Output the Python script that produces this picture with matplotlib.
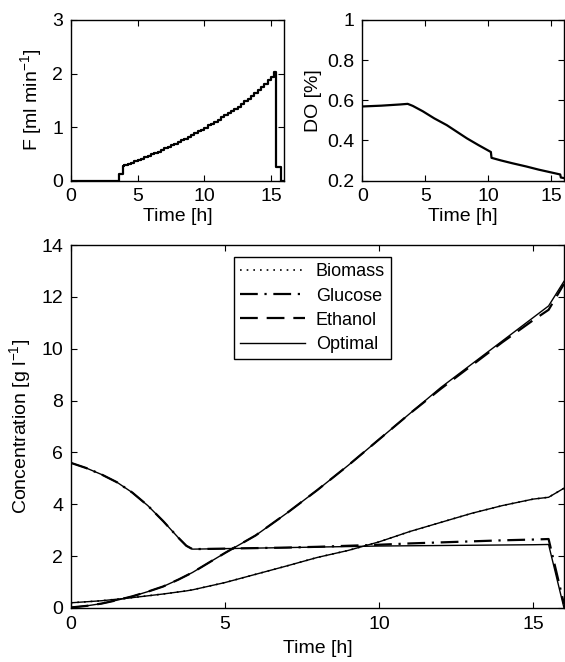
import numpy as np
import matplotlib
matplotlib.use("Agg")
import matplotlib.pyplot as plt

plt.rcParams["font.family"] = ["Liberation Sans", "DejaVu Sans"]
plt.rcParams["mathtext.fontset"] = "custom"
plt.rcParams["mathtext.rm"] = "Liberation Sans"
plt.rcParams["mathtext.it"] = "Liberation Sans:italic"
plt.rcParams["font.size"] = 14

# feed rate F (step changes, value holds until next time)
f_t = [0, 3.6, 3.9, 4.0, 4.25, 4.5, 4.75, 5.0, 5.25, 5.5, 5.75, 6.0, 6.25, 6.5, 6.75,
       7.0, 7.25, 7.5, 7.75, 8.0, 8.25, 8.5, 8.75, 9.0, 9.25, 9.5, 9.75, 10.0, 10.25,
       10.5, 10.75, 11.0, 11.25, 11.5, 11.75, 12.0, 12.25, 12.5, 12.75, 13.0, 13.25,
       13.5, 13.75, 14.0, 14.25, 14.5, 14.75, 15.0, 15.2, 15.4, 15.78, 16.0]
f_v = [0, 0.12, 0.28, 0.29, 0.31, 0.33, 0.36, 0.38, 0.41, 0.43, 0.46, 0.49, 0.51, 0.54, 0.57,
       0.60, 0.63, 0.66, 0.69, 0.72, 0.75, 0.78, 0.82, 0.85, 0.88, 0.92, 0.95, 0.99, 1.03,
       1.06, 1.10, 1.14, 1.18, 1.22, 1.26, 1.30, 1.34, 1.38, 1.43, 1.48, 1.53,
       1.58, 1.63, 1.69, 1.74, 1.80, 1.87, 1.94, 2.03, 0.25, 0.0, 0.0]

# dissolved oxygen
do_t = [0, 1.5, 3.0, 3.6, 4.0, 4.8, 5.7, 6.7, 7.5, 8.3, 9.2, 10.2, 10.25, 11.0, 11.9, 13.0, 14.0, 15.0, 15.7, 15.75, 16.0]
do_v = [0.569, 0.573, 0.579, 0.582, 0.572, 0.545, 0.51, 0.476, 0.443, 0.41, 0.377, 0.342, 0.313, 0.300, 0.286, 0.270, 0.254, 0.240, 0.230, 0.215, 0.212]

# concentrations
t = [0, 0.5, 1, 1.5, 2, 2.5, 3, 3.5, 3.75, 3.95, 5, 6, 7, 8, 9, 10, 11, 12, 13, 14, 15, 15.5, 16]
glc_opt = [5.6, 5.4, 5.15, 4.85, 4.45, 3.95, 3.35, 2.7, 2.4, 2.27, 2.29, 2.31, 2.33, 2.35, 2.37, 2.39, 2.40, 2.41, 2.42, 2.43, 2.44, 2.45, 0.0]
glc_sim = [5.6, 5.4, 5.15, 4.85, 4.45, 3.95, 3.35, 2.7, 2.4, 2.27, 2.29, 2.31, 2.33, 2.36, 2.40, 2.44, 2.49, 2.53, 2.57, 2.61, 2.64, 2.66, 0.15]
eth_opt = [0.02, 0.08, 0.17, 0.3, 0.45, 0.63, 0.83, 1.1, 1.25, 1.37, 2.12, 2.8, 3.65, 4.55, 5.5, 6.5, 7.5, 8.5, 9.4, 10.3, 11.2, 11.65, 12.6]
eth_sim = [0.02, 0.08, 0.17, 0.3, 0.45, 0.63, 0.83, 1.1, 1.25, 1.37, 2.12, 2.8, 3.65, 4.55, 5.5, 6.5, 7.5, 8.45, 9.35, 10.25, 11.1, 11.5, 12.5]
bio_opt = [0.2, 0.24, 0.28, 0.34, 0.4, 0.47, 0.54, 0.62, 0.66, 0.7, 0.98, 1.3, 1.62, 1.95, 2.22, 2.55, 2.95, 3.3, 3.65, 3.95, 4.2, 4.27, 4.62]
bio_sim = bio_opt

fig = plt.figure(figsize=(5.65, 6.62), dpi=100)
W, H = 565.0, 662.0
ax1 = fig.add_axes([71 / W, 1 - 180.5 / H, 213.3 / W, 160.5 / H])
ax2 = fig.add_axes([362.3 / W, 1 - 180.5 / H, 201.7 / W, 160.5 / H])
ax3 = fig.add_axes([70.7 / W, 1 - 608 / H, 493.3 / W, 363 / H])

for ax in (ax1, ax2, ax3):
    ax.tick_params(direction="in", top=True, right=True, length=4, width=0.8, pad=5.5)
    for s in ax.spines.values():
        s.set_linewidth(1.0)
    ax.set_xlim(0, 16)
    ax.set_xticks([0, 5, 10, 15])
    ax.set_xlabel("Time [h]", labelpad=2)

ax1.plot(f_t, f_v, color="k", lw=1.6, drawstyle="steps-post")
ax1.set_ylim(0, 3)
ax1.set_yticks([0, 1, 2, 3])
ax1.set_ylabel("F [ml min$^{-1}$]", labelpad=6)

ax2.plot(do_t, do_v, color="k", lw=1.6)
ax2.set_ylim(0.2, 1)
ax2.set_yticks([0.2, 0.4, 0.6, 0.8, 1])
ax2.set_yticklabels(["0.2", "0.4", "0.6", "0.8", "1"])
ax2.set_ylabel("DO [%]", labelpad=4)

ax3.plot(t, bio_sim, color="k", lw=1.2, ls=(0, (1, 3)), label="Biomass")
ax3.plot(t, glc_sim, color="k", lw=1.6, ls=(0, (8, 3, 1, 3)), label="Glucose")
ax3.plot(t, eth_sim, color="k", lw=1.6, ls=(0, (8, 4)), label="Ethanol")
ax3.plot(t, glc_opt, color="k", lw=1.0, label="Optimal")
ax3.plot(t, eth_opt, color="k", lw=1.0)
ax3.plot(t, bio_opt, color="k", lw=1.0)
ax3.set_ylim(0, 14)
ax3.set_yticks(np.arange(0, 15, 2))
ax3.set_xlabel("Time [h]", labelpad=5)
ax3.set_ylabel("Concentration [g l$^{-1}$]", labelpad=6)
leg = ax3.legend(loc="upper center", bbox_to_anchor=(0.49, 0.967), fontsize=13,
                 handlelength=3.6, handletextpad=0.6, labelspacing=0.4,
                 borderpad=0.35, borderaxespad=0, fancybox=False, framealpha=1, edgecolor="k")
leg.get_frame().set_linewidth(1.0)

fig.savefig("out.png", dpi=100)
